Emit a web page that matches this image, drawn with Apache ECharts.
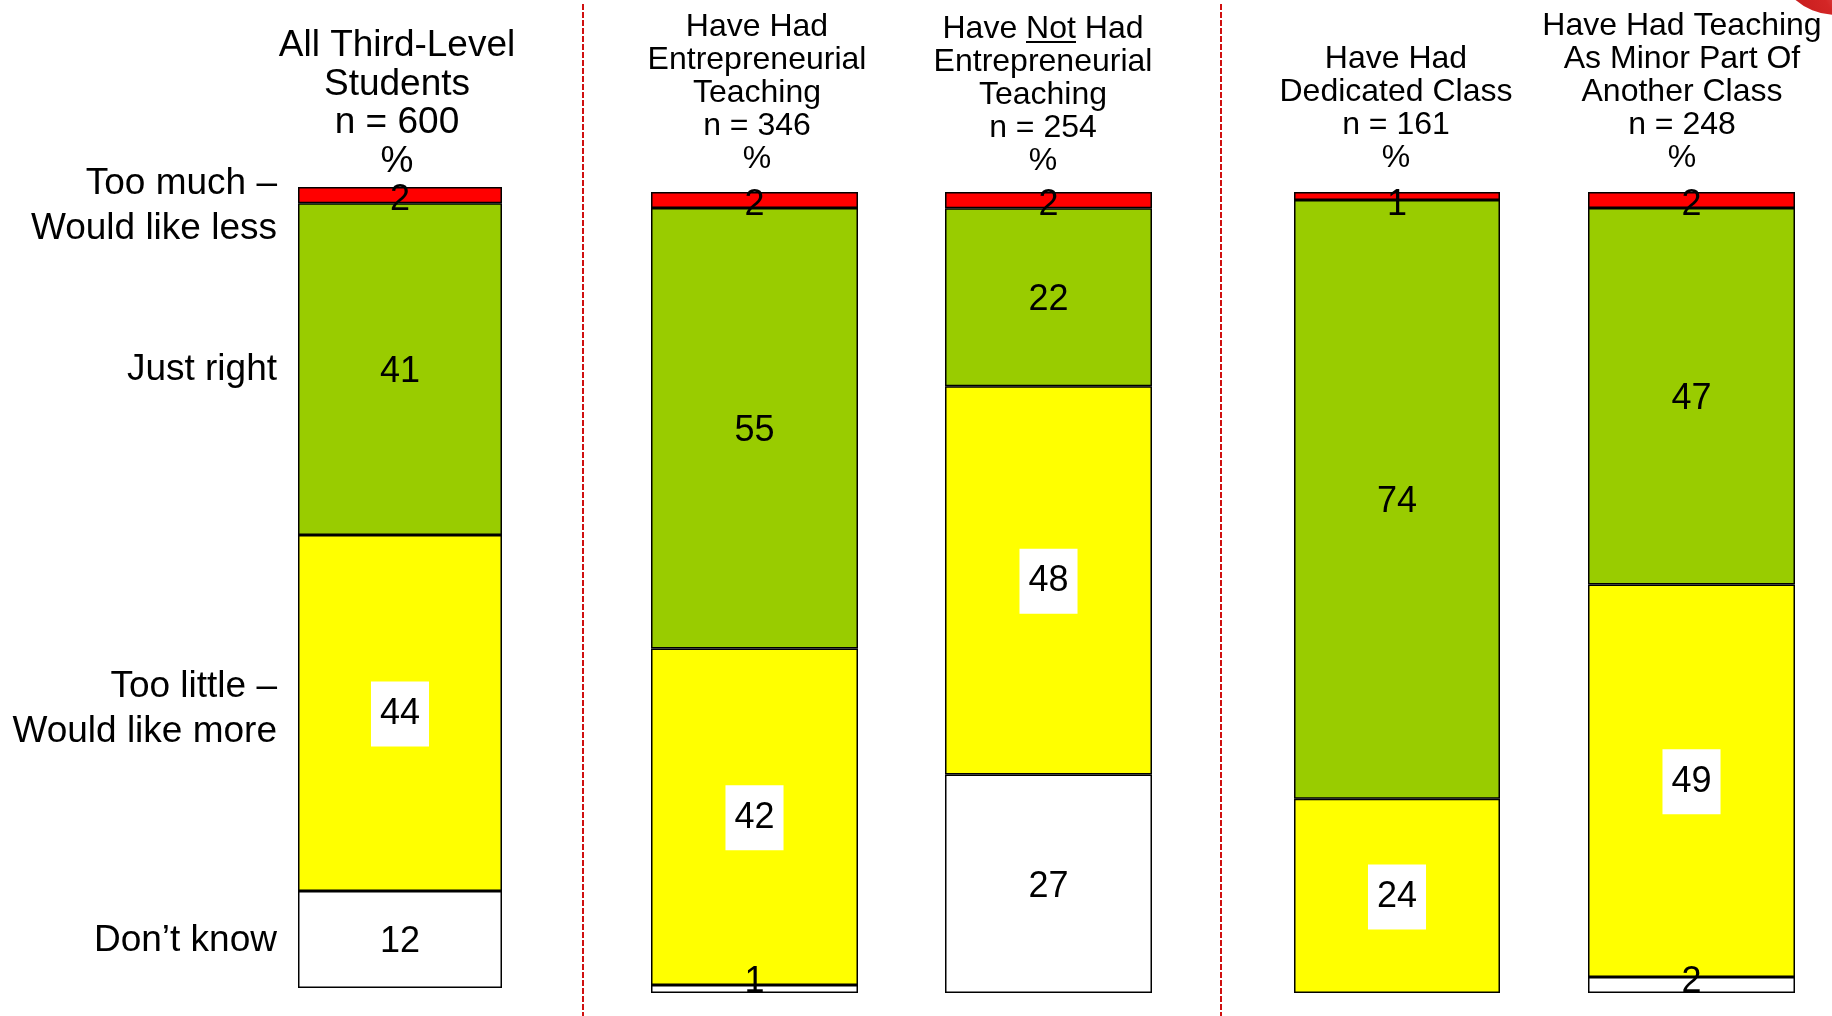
<!DOCTYPE html>
<html>
<head>
<meta charset="utf-8">
<title>Entrepreneurial teaching – amount received</title>
<script src="https://cdn.jsdelivr.net/npm/echarts@6/dist/echarts.min.js"></script>
<style>
  html, body { margin: 0; padding: 0; background: #ffffff; }
  #chart { width: 1832px; height: 1016px; }
</style>
</head>
<body>
<div id="chart"></div>
<script>
// Student groups shown as columns, with their sample sizes
const groupNames = [
  'All Third-Level\nStudents',
  'Have Had\nEntrepreneurial\nTeaching',
  'Have Not Had\nEntrepreneurial\nTeaching',
  'Have Had\nDedicated Class',
  'Have Had Teaching\nAs Minor Part Of\nAnother Class'
];
const sampleSizes = [600, 346, 254, 161, 248];

// Answer categories, stacked bottom to top
const answerNames = ['Don’t know', 'Too little – Would like more', 'Just right', 'Too much – Would like less'];
const rowLabels = ['Don’t know', 'Too little –\nWould like more', 'Just right', 'Too much –\nWould like less'];

// Percentages per group (same order as groupNames)
const dontKnow  = [12, 1, 27, null, 2];
const tooLittle = [44, 42, 48, 24, 49];
const justRight = [41, 55, 22, 74, 47];
const tooMuch   = [2, 2, 2, 1, 2];

const answerValues = [dontKnow, tooLittle, justRight, tooMuch];
const answerColors = ['#ffffff', '#ffff00', '#99cc00', '#ff0000'];

const FONT = '"Liberation Sans", Arial, Helvetica, sans-serif';

// Column geometry (pixels)
const colLeft  = [298, 651, 945, 1294, 1588];
const colWidth = [204, 207, 207, 206, 207];
const colTop   = [187, 192, 192, 192, 192];
const colBottom = [988, 993, 993, 993, 993];

// Header placement
const headCx = [397, 757, 1043, 1396, 1682];
const headCy = [104, 93, 95, 109, 92];
const headSize = [37, 32, 32, 32, 32];
const headLine = [38.5, 33, 33, 33, 33];

// Row label placement (right aligned)
const rowLabelX = 277;
const rowLabelY = [941, 709, 370, 206];

const grids = [], xAxes = [], yAxes = [], series = [];

groupNames.forEach((name, g) => {
  const total = answerValues.reduce((s, arr) => s + (arr[g] || 0), 0);
  grids.push({
    left: colLeft[g], top: colTop[g],
    width: colWidth[g], height: colBottom[g] - colTop[g],
    containLabel: false
  });
  xAxes.push({ gridIndex: g, type: 'category', data: [name], show: false });
  yAxes.push({ gridIndex: g, type: 'value', min: 0, max: total, show: false, splitLine: { show: false } });

  answerValues.forEach((arr, a) => {
    const v = arr[g];
    const item = { value: v };
    // Thin slivers keep their number inside the column edge
    if (v != null && v < 5) {
      item.label = a === answerValues.length - 1
        ? { position: 'insideTop', distance: -5, offset: [0, 0] }
        : { position: 'insideBottom', distance: -7, offset: [0, 0] };
    }
    const boxed = a === 1;
    series.push({
      name: answerNames[a],
      type: 'bar',
      xAxisIndex: g,
      yAxisIndex: g,
      stack: 'col' + g,
      barWidth: '100%',
      data: [item],
      itemStyle: { color: answerColors[a], borderColor: '#000000', borderWidth: 1.5 },
      label: {
        show: v != null,
        position: 'inside',
        offset: boxed ? [0, 1] : [0, 3],
        fontFamily: FONT,
        fontSize: 36,
        color: '#000000',
        backgroundColor: boxed ? '#ffffff' : 'transparent',
        padding: boxed ? [18, 9, 11, 9] : 0,
        formatter: p => (p.value == null ? '' : String(p.value))
      },
      emphasis: { disabled: true },
      silent: true
    });
  });
});

const graphics = [];

// Column headers
groupNames.forEach((name, g) => {
  graphics.push({
    type: 'text',
    style: {
      x: headCx[g], y: headCy[g],
      text: name + '\nn = ' + sampleSizes[g] + '\n%',
      fontFamily: FONT, fontSize: headSize[g],
      lineHeight: headLine[g],
      fill: '#000000', align: 'center', verticalAlign: 'middle'
    }
  });
});

// Underline under "Not"
graphics.push({
  type: 'line',
  shape: { x1: 1026, y1: 42, x2: 1076, y2: 42 },
  style: { stroke: '#000000', lineWidth: 2 }
});

// Row labels on the left
rowLabels.forEach((t, i) => {
  graphics.push({
    type: 'text',
    style: {
      x: rowLabelX, y: rowLabelY[i],
      text: t, fontFamily: FONT, fontSize: 37, lineHeight: 45,
      fill: '#000000', align: 'right', verticalAlign: 'middle'
    }
  });
});

// Dashed separators between group blocks
[583, 1221].forEach(x => {
  graphics.push({
    type: 'line',
    shape: { x1: x, y1: 4, x2: x, y2: 1016 },
    style: { stroke: '#d01010', lineWidth: 2, lineDash: [6, 2] }
  });
});

// Red badge peeking in at the top-right corner
graphics.push({
  type: 'circle',
  shape: { cx: 1836, cy: -47, r: 62 },
  style: {
    fill: {
      type: 'radial', x: 0.7, y: 0.75, r: 0.7,
      colorStops: [
        { offset: 0, color: '#f07a7a' },
        { offset: 0.45, color: '#d42626' },
        { offset: 1, color: '#c01818' }
      ]
    }
  }
});

const chart = echarts.init(document.getElementById('chart'), null, { renderer: 'canvas' });
chart.setOption({
  backgroundColor: '#ffffff',
  animation: false,
  grid: grids,
  xAxis: xAxes,
  yAxis: yAxes,
  series: series,
  graphic: graphics
});
</script>
</body>
</html>
